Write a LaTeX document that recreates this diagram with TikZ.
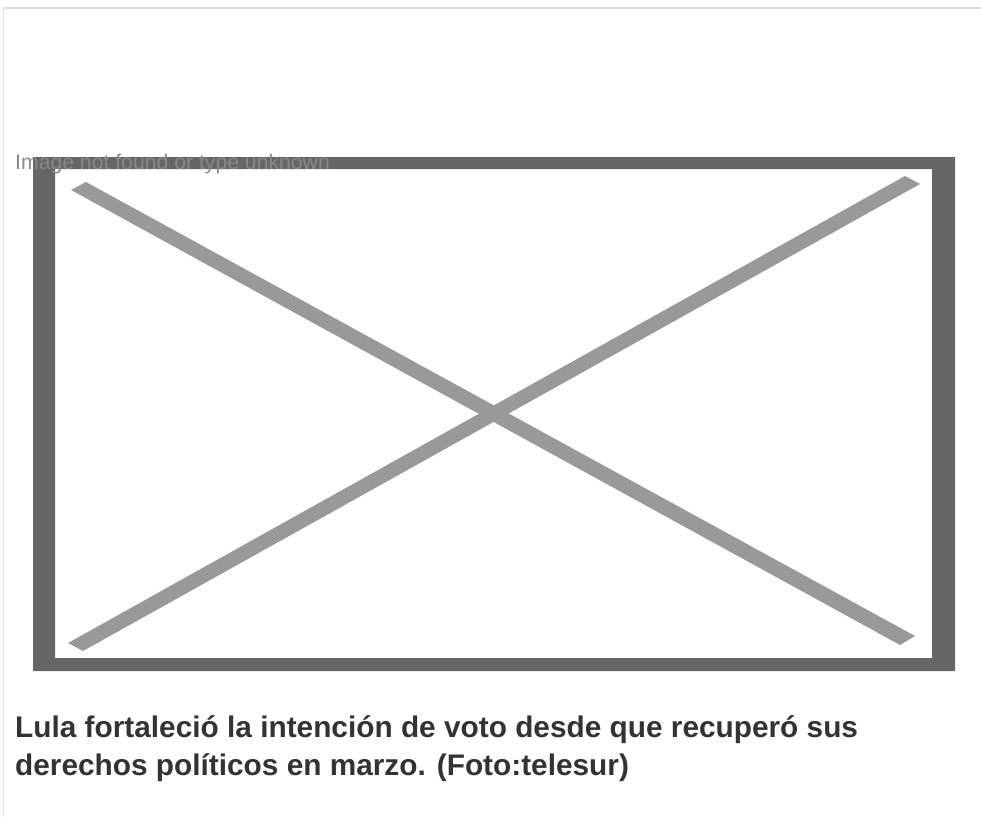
\documentclass[tikz,border=0pt]{standalone}
\usepackage{fontspec}
\setmainfont{Liberation Sans}
\usepackage{tikz}
\usetikzlibrary{positioning}

\definecolor{bordergray}{HTML}{DDDDDD}
\definecolor{framegray}{HTML}{666666}
\definecolor{crossgray}{HTML}{999999}
\definecolor{alttext}{HTML}{888888}
\definecolor{captext}{HTML}{333333}

\tikzset{
	alt/.style={anchor=base west, inner sep=0pt, text=alttext, font=\fontsize{21.2}{25}\selectfont},
	caption/.style={anchor=base west, inner sep=0pt, text=captext, font=\fontsize{29.8}{36}\selectfont\bfseries}
}

\begin{document}
\begin{tikzpicture}[x=1pt, y=-1pt]
	\useasboundingbox (0,0) rectangle (981,817);
	\draw[line width=1.5pt, bordergray] (3.5,817) -- (3.5,8) -- (981,8);
	\fill[framegray, even odd rule] (33,157) rectangle (955,671) (55,169) rectangle (932,658);
	\fill[crossgray] (86,182) -- (915,636) -- (900,645) -- (71,190) -- cycle;
	\fill[crossgray] (905,176) -- (920,184) -- (83,651) -- (68,643) -- cycle;
	\node[alt] (missing) at (15,169) {Image not found or type unknown};
	\node[caption] (capA) at (15,737) {Lula fortaleció la intención de voto desde que recuperó sus};
	\node[caption] (capB) at (15,775) {derechos políticos en marzo. (Foto:telesur)};
\end{tikzpicture}
\end{document}
